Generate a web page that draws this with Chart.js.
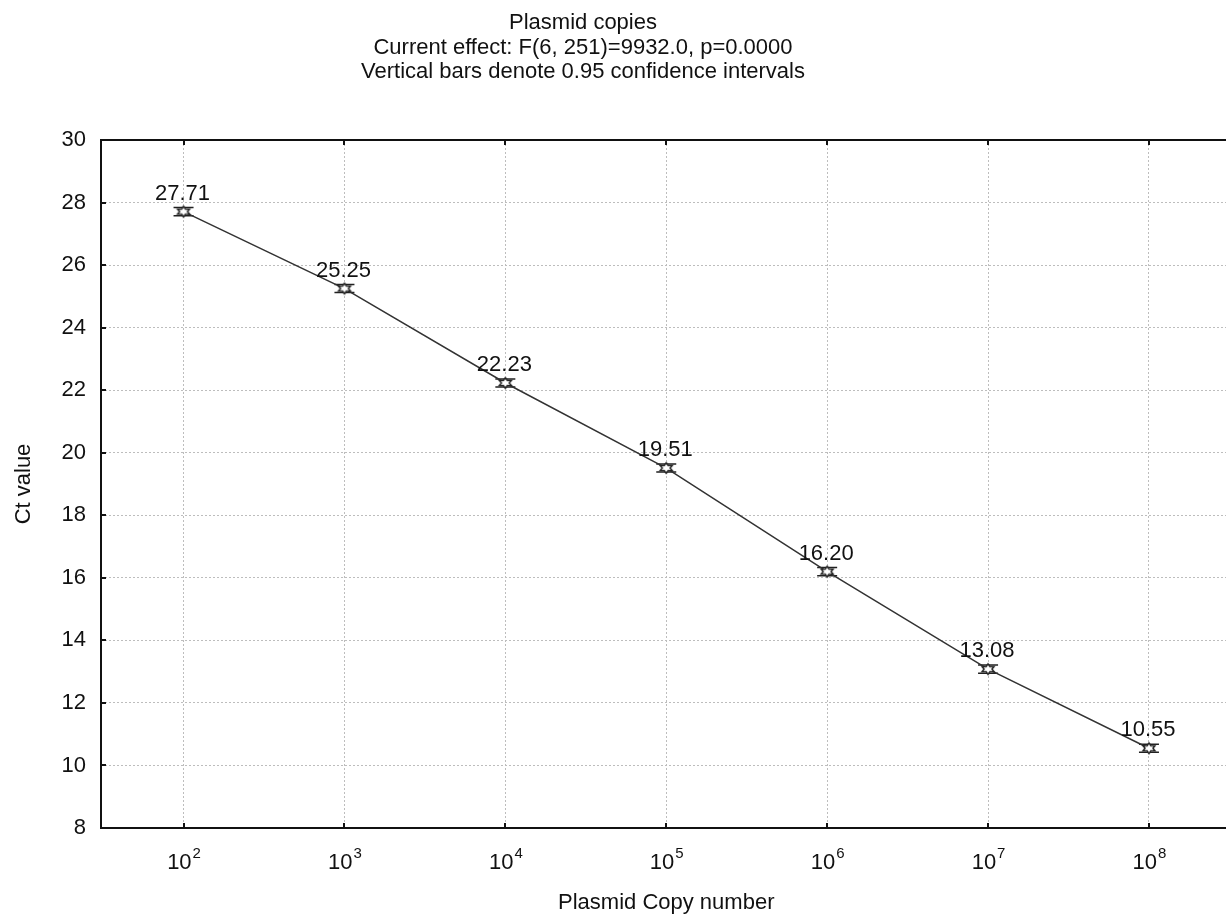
<!DOCTYPE html>
<html>
<head>
<meta charset="utf-8">
<script src="https://cdn.jsdelivr.net/npm/chart.js@4.4.1/dist/chart.umd.min.js"></script>
<style>
  html, body { margin: 0; padding: 0; background: #fff; overflow: hidden; }
  #wrap { width: 1240px; height: 919px; position: relative; }
</style>
</head>
<body>
<div id="wrap"><canvas id="chartCt"></canvas></div>
<script>
// dados
const copyExponents = [2, 3, 4, 5, 6, 7, 8];
const ctValues = [27.71, 25.25, 22.23, 19.51, 16.20, 13.08, 10.55];
const ciHalfWidth = [0.13, 0.13, 0.13, 0.13, 0.13, 0.13, 0.13];
const yTicks = [8, 10, 12, 14, 16, 18, 20, 22, 24, 26, 28, 30];
const titleLines = [
  'Plasmid copies',
  'Current effect: F(6, 251)=9932.0, p=0.0000',
  'Vertical bars denote 0.95 confidence intervals'
];

const FONT = '"Liberation Sans", Arial, sans-serif';

// marcador: estrela de seis pontas vazada
function makeStar() {
  const c = document.createElement('canvas');
  c.width = 18; c.height = 14;
  const g = c.getContext('2d');
  const cx = 9, cy = 7;
  g.beginPath();
  for (let i = 0; i < 12; i++) {
    const a = -Math.PI / 2 + i * Math.PI / 6;
    const r = i % 2 === 0 ? 7 : 3.9;
    const x = cx + r * Math.cos(a);
    const y = cy + r * Math.sin(a) * 0.75;
    if (i === 0) g.moveTo(x, y); else g.lineTo(x, y);
  }
  g.closePath();
  g.fillStyle = '#fff';
  g.fill();
  g.lineWidth = 1.4;
  g.strokeStyle = '#222';
  g.stroke();
  return c;
}
const starImg = makeStar();

const extras = {
  id: 'extras',
  beforeDatasetsDraw(chart) {
    const { ctx, scales: { x, y } } = chart;
    ctx.save();
    ctx.strokeStyle = '#222';
    ctx.lineWidth = 1.5;
    copyExponents.forEach((e, i) => {
      const px = x.getPixelForValue(e);
      const top = y.getPixelForValue(ctValues[i] + ciHalfWidth[i]);
      const bot = y.getPixelForValue(ctValues[i] - ciHalfWidth[i]);
      ctx.beginPath();
      ctx.moveTo(px, top); ctx.lineTo(px, bot);
      ctx.moveTo(px - 10, top); ctx.lineTo(px + 10, top);
      ctx.moveTo(px - 10, bot); ctx.lineTo(px + 10, bot);
      ctx.stroke();
    });
    ctx.restore();
  },
  afterDraw(chart) {
    const { ctx, chartArea: a, scales: { x, y } } = chart;
    ctx.save();
    // rótulos dos pontos
    ctx.fillStyle = '#111';
    ctx.font = '22px ' + FONT;
    ctx.textAlign = 'center';
    ctx.textBaseline = 'alphabetic';
    copyExponents.forEach((e, i) => {
      ctx.fillText(ctValues[i].toFixed(2), x.getPixelForValue(e) - 1, y.getPixelForValue(ctValues[i]) - 12);
    });
    // rótulos do eixo x: 10 com expoente
    ctx.textAlign = 'left';
    copyExponents.forEach(e => {
      const px = x.getPixelForValue(e);
      ctx.font = '22px ' + FONT;
      const wBase = ctx.measureText('10').width;
      ctx.font = '15px ' + FONT;
      const wExp = ctx.measureText(String(e)).width;
      const x0 = px - (wBase + wExp) / 2;
      ctx.font = '22px ' + FONT;
      ctx.fillText('10', x0, a.bottom + 41);
      ctx.font = '15px ' + FONT;
      ctx.fillText(String(e), x0 + wBase + 1, a.bottom + 30);
    });
    // moldura
    ctx.strokeStyle = '#111';
    ctx.lineWidth = 2;
    ctx.beginPath();
    ctx.moveTo(a.right, a.top); ctx.lineTo(a.left, a.top);
    ctx.lineTo(a.left, a.bottom); ctx.lineTo(a.right, a.bottom);
    ctx.lineTo(a.right, a.top);
    ctx.stroke();
    // marcas internas
    ctx.beginPath();
    copyExponents.forEach(e => {
      const px = Math.round(x.getPixelForValue(e));
      ctx.moveTo(px, a.bottom); ctx.lineTo(px, a.bottom - 5);
      ctx.moveTo(px, a.top); ctx.lineTo(px, a.top + 5);
    });
    yTicks.forEach(v => {
      const py = Math.round(y.getPixelForValue(v));
      ctx.moveTo(a.left, py); ctx.lineTo(a.left + 5, py);
    });
    ctx.stroke();
    // títulos
    ctx.fillStyle = '#111';
    ctx.font = '22px ' + FONT;
    ctx.textAlign = 'center';
    ctx.textBaseline = 'middle';
    titleLines.forEach((t, i) => ctx.fillText(t, 583, 23 + i * 24.5));
    ctx.restore();
  }
};

const ctx = document.getElementById('chartCt').getContext('2d');
new Chart(ctx, {
  type: 'line',
  data: {
    datasets: [{
      data: copyExponents.map((e, i) => ({ x: e, y: ctValues[i] })),
      borderColor: '#333',
      borderWidth: 1.5,
      pointStyle: starImg,
      pointRadius: 7,
      tension: 0,
      fill: false
    }]
  },
  plugins: [extras],
  options: {
    responsive: true,
    maintainAspectRatio: false,
    animation: false,
    devicePixelRatio: 1,
    layout: { padding: { top: 140, right: 3, left: 0, bottom: 0 } },
    plugins: {
      legend: { display: false },
      title: { display: false },
      tooltip: { enabled: false }
    },
    scales: {
      x: {
        type: 'linear',
        min: 1.487,
        max: 8.513,
        afterBuildTicks: s => { s.ticks = copyExponents.map(v => ({ value: v })); },
        afterFit: s => { s.height = 91; },
        grid: { color: '#bdbdbd', lineWidth: 1, drawTicks: false },
        border: { display: false, dash: [2, 2] },
        ticks: { display: false },
        title: {
          display: true,
          text: 'Plasmid Copy number',
          color: '#111',
          font: { family: FONT, size: 22 },
          padding: { top: 0, bottom: 3 }
        }
      },
      y: {
        min: 8,
        max: 30,
        afterBuildTicks: s => { s.ticks = yTicks.map(v => ({ value: v })); },
        afterFit: s => { s.width = 101; },
        grid: { color: '#bdbdbd', lineWidth: 1, drawTicks: false },
        border: { display: false, dash: [2, 2] },
        ticks: {
          padding: 15,
          color: '#111',
          font: { family: FONT, size: 22 }
        },
        title: {
          display: true,
          text: 'Ct value',
          color: '#111',
          font: { family: FONT, size: 22 },
          padding: { top: 11, bottom: 0 }
        }
      }
    }
  }
});
</script>
</body>
</html>
